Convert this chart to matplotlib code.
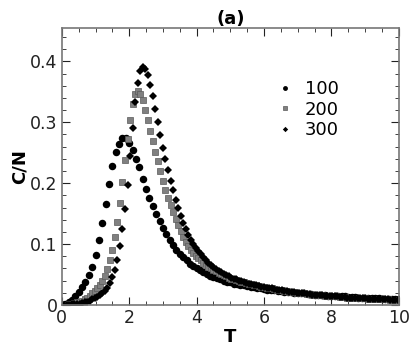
import numpy as np
import matplotlib
matplotlib.use('Agg')
import matplotlib.pyplot as plt
from matplotlib.ticker import MultipleLocator, FuncFormatter

# temperature grids (L=100 sampled every 0.1, L=200/300 every 0.075)
T100 = np.round(np.arange(1, 101) * 0.1, 3)
T200 = np.round(np.arange(1, 134) * 0.075, 3)
T300 = T200

c100 = [0.001, 0.004, 0.008, 0.014, 0.021, 0.029, 0.038, 0.049, 0.063, 0.082,
        0.106, 0.135, 0.166, 0.199, 0.229, 0.251, 0.265, 0.274, 0.274, 0.266,
        0.255, 0.240, 0.226, 0.207, 0.190, 0.176, 0.163, 0.150, 0.138, 0.126,
        0.116, 0.106, 0.098, 0.090, 0.083, 0.078, 0.073, 0.068, 0.064, 0.060,
        0.057, 0.054, 0.051, 0.048, 0.046, 0.044, 0.042, 0.040, 0.038, 0.037,
        0.035, 0.034, 0.033, 0.032, 0.031, 0.030, 0.029, 0.028, 0.027, 0.026,
        0.025, 0.025, 0.024, 0.023, 0.023, 0.022, 0.021, 0.021, 0.020, 0.020,
        0.019, 0.019, 0.018, 0.018, 0.017, 0.017, 0.016, 0.016, 0.015, 0.015,
        0.015, 0.014, 0.014, 0.014, 0.013, 0.013, 0.013, 0.012, 0.012, 0.012,
        0.011, 0.011, 0.011, 0.011, 0.010, 0.010, 0.010, 0.010, 0.009, 0.009]

c200 = [0.000, 0.000, 0.001, 0.002, 0.003, 0.004, 0.005, 0.007, 0.009, 0.012,
        0.015, 0.019, 0.023, 0.027, 0.032, 0.039, 0.048, 0.059, 0.073, 0.091,
        0.112, 0.137, 0.167, 0.202, 0.238, 0.272, 0.304, 0.330, 0.346, 0.351,
        0.347, 0.336, 0.321, 0.304, 0.286, 0.269, 0.252, 0.236, 0.220, 0.204,
        0.189, 0.176, 0.164, 0.152, 0.141, 0.131, 0.121, 0.112, 0.104, 0.097,
        0.091, 0.086, 0.081, 0.077, 0.073, 0.069, 0.066, 0.063, 0.060, 0.057,
        0.055, 0.053, 0.051, 0.049, 0.047, 0.045, 0.043,
        0.042, 0.041, 0.039, 0.038, 0.037, 0.036, 0.035, 0.034, 0.033, 0.032,
        0.031, 0.030, 0.029, 0.028, 0.027, 0.027, 0.026, 0.025, 0.025, 0.024,
        0.023, 0.023, 0.022, 0.021, 0.021, 0.020, 0.020, 0.019, 0.019, 0.018,
        0.018, 0.017, 0.017, 0.017, 0.016, 0.016, 0.015, 0.015, 0.015, 0.014,
        0.014, 0.014, 0.013, 0.013, 0.013, 0.012, 0.012, 0.012, 0.012, 0.011,
        0.011, 0.011, 0.011, 0.010, 0.010, 0.010, 0.010, 0.009, 0.009, 0.009,
        0.009, 0.009, 0.008, 0.008, 0.008, 0.008]

c300 = [0.000, 0.000, 0.000, 0.001, 0.001, 0.002, 0.002, 0.003, 0.004, 0.005,
        0.007, 0.009, 0.011, 0.013, 0.016, 0.019, 0.023, 0.028, 0.036, 0.046,
        0.058, 0.074, 0.096, 0.124, 0.158, 0.197, 0.244, 0.291, 0.333, 0.365,
        0.384, 0.391, 0.388, 0.377, 0.361, 0.343, 0.322, 0.301, 0.279, 0.258,
        0.239, 0.221, 0.204, 0.188, 0.173, 0.159, 0.146, 0.134, 0.124, 0.115,
        0.107, 0.100, 0.094, 0.088, 0.083, 0.078, 0.073, 0.069, 0.066, 0.062,
        0.059, 0.056, 0.054, 0.051, 0.049, 0.047, 0.045,
        0.043, 0.042, 0.040, 0.039, 0.037, 0.036, 0.035, 0.034, 0.033, 0.032,
        0.031, 0.030, 0.029, 0.028, 0.027, 0.027, 0.026, 0.025, 0.025, 0.024,
        0.023, 0.023, 0.022, 0.021, 0.021, 0.020, 0.020, 0.019, 0.019, 0.018,
        0.018, 0.017, 0.017, 0.017, 0.016, 0.016, 0.015, 0.015, 0.015, 0.014,
        0.014, 0.014, 0.013, 0.013, 0.013, 0.012, 0.012, 0.012, 0.012, 0.011,
        0.011, 0.011, 0.011, 0.010, 0.010, 0.010, 0.010, 0.009, 0.009, 0.009,
        0.009, 0.009, 0.008, 0.008, 0.008, 0.008]

labels = ['100', '200', '300']

fig = plt.figure(figsize=(4.15, 3.63), dpi=100)
ax = fig.add_axes([0.149, 0.160, 0.812, 0.763])

ax.plot(T100, c100, 'o', color='k', ms=5.4, mew=0, label=labels[0])
ax.plot(T200, c200, 's', color='#808080', mec='#5a5a5a', mew=0.5, ms=4.4, label=labels[1])
ax.plot(T300, c300, 'D', color='k', ms=4.2, mew=0, label=labels[2])

ax.set_xlim(0, 10)
ax.set_ylim(0, 0.455)
ax.xaxis.set_major_locator(MultipleLocator(2))
ax.xaxis.set_minor_locator(MultipleLocator(0.5))
ax.yaxis.set_major_locator(MultipleLocator(0.1))
ax.yaxis.set_minor_locator(MultipleLocator(0.02))
ax.yaxis.set_major_formatter(FuncFormatter(lambda v, p: ('%g' % round(v, 2))))

ax.tick_params(which='both', direction='in', top=True, right=True,
               labelsize=12.5, labelcolor='#222222', color='#222222')
ax.tick_params(which='major', length=6, width=0.8, pad=3)
ax.tick_params(which='minor', length=3, width=0.6)
for s in ax.spines.values():
    s.set_color('#777777')
    s.set_linewidth(1.2)

ax.set_xlabel('T', fontsize=13, fontweight='bold', labelpad=1)
ax.set_ylabel('C/N', fontsize=13, fontweight='bold', labelpad=1)
ax.set_title('(a)', fontsize=13, fontweight='bold', pad=3)

ax.legend(loc='upper left', bbox_to_anchor=(0.62, 0.845), frameon=False,
          fontsize=13, handlelength=0.6, handletextpad=0.8, labelspacing=0.15,
          markerscale=0.65, borderpad=0)

fig.savefig('out.png', dpi=100)
